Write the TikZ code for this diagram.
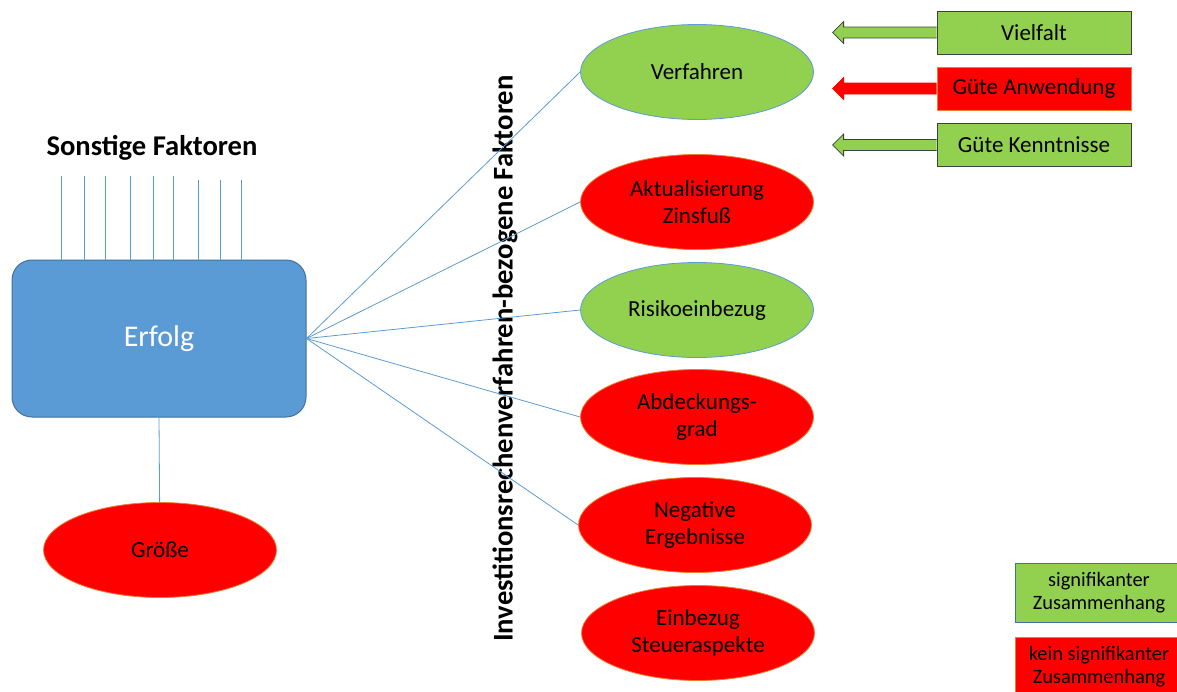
\documentclass[tikz,border=0pt]{standalone}
\usepackage{fontspec}
\setmainfont{Carlito}
\usetikzlibrary{shapes.geometric, calc, positioning}
\definecolor{gruen}{HTML}{92D050}
\definecolor{rot}{HTML}{FF0000}
\definecolor{blau}{HTML}{5B9BD5}
\definecolor{dunkelblau}{HTML}{41719C}
\definecolor{orange}{HTML}{ED7D31}
\newcommand{\gross}{\fontsize{28.6}{32}\selectfont\bfseries}
\newcommand{\mittel}{\fontsize{23}{26.5}\selectfont}

\begin{document}
\begin{tikzpicture}[x=1pt, y=-1pt,
	conn/.style={draw=blau, line width=0.8pt},
	faktor/.style={ellipse, minimum width=233pt, minimum height=95pt, inner sep=0pt, align=center, font=\mittel, line width=0.8pt},
	ja/.style={faktor, fill=gruen, draw=blau},
	nein/.style={faktor, fill=rot, draw=orange},
	merkmal/.style={rectangle, minimum width=194pt, minimum height=43pt, inner sep=0pt, font=\mittel, line width=0.8pt},
	legende/.style={rectangle, minimum width=168pt, minimum height=59pt, inner sep=0pt, align=center, font=\fontsize{20.4}{23}\selectfont, line width=0.8pt}]
	\clip (0,0) rectangle (1177,691);

	\node[rectangle, rounded corners=20pt, fill=blau, draw=dunkelblau, line width=1pt, minimum width=294pt, minimum height=157pt, text=white, font=\fontsize{30}{34}\selectfont] (erfolg) at (159,338.5) {Erfolg};
	\node[font=\gross] (sonstige) at (152,148) {Sonstige Faktoren};
	\foreach \x/\t in {61/176, 84/176, 105/176, 130/176, 153/176, 173/176, 198/180, 220/180, 241/180}
		\draw[conn] (\x,\t) -- (\x,\t |- erfolg.north);

	\node[nein] (groesse) at (160,550) {Größe};
	\draw[conn] (erfolg.south) -- (groesse);

	\node[font=\gross, rotate=90] (ivf) at (505,358.5) {Investitionsrechenverfahren-bezogene Faktoren};

	\node[ja] (verfahren) at (697,72) {Verfahren};
	\node[nein] (zinsfuss) at (697,202) {Aktualisierung\\Zinsfuß};
	\node[ja] (risiko) at (697,310) {Risikoeinbezug};
	\node[nein] (abdeckung) at (697,417) {Abdeckungs-\\grad};
	\node[nein] (negativ) at (695,525) {Negative\\Ergebnisse};
	\node[nein] (steuer) at (698,633) {Einbezug\\Steueraspekte};
	\foreach \z in {verfahren, zinsfuss, risiko, abdeckung, negativ}
		\draw[conn] (erfolg.east) -- (\z.west);

	\node[merkmal, fill=gruen, draw=black!75] (vielfalt) at (1034,32.5) {Vielfalt};
	\node[merkmal, fill=rot, draw=orange] (anwendung) at (1034,88.5) {Güte Anwendung};
	\node[merkmal, fill=gruen, draw=black!75] (kenntnisse) at (1034,145) {Güte Kenntnisse};
	% Blockpfeile nach links
	\foreach \b/\f/\r in {vielfalt/gruen/black!75, anwendung/rot/rot, kenntnisse/gruen/black!75}
		\draw[fill=\f, draw=\r, line width=0.8pt] ($(\b.west)+(0,-5.5)$) -- ++(-93,0) -- ++(0,-5.5) -- ++(-11,11) -- ++(11,11) -- ++(0,-5.5) -- ($(\b.west)+(0,5.5)$);

	\node[legende, fill=gruen, draw=dunkelblau] (sig) at (1099,592.5) {signifikanter\\Zusammenhang};
	\node[legende, fill=rot, draw=orange] (nsig) at (1099,667) {kein signifikanter\\Zusammenhang};
\end{tikzpicture}
\end{document}
